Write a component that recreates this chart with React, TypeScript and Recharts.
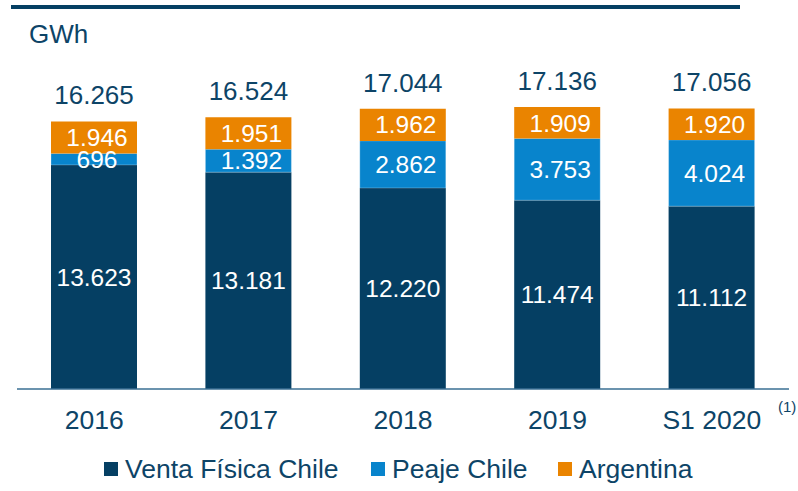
import React from "react"
import { BarChart, Bar, XAxis, YAxis, LabelList } from "recharts"

const years = ["2016", "2017", "2018", "2019", "S1 2020"]
const ventaFisica = [13623, 13181, 12220, 11474, 11112]
const peaje = [696, 1392, 2862, 3753, 4024]
const argentina = [1946, 1951, 1962, 1909, 1920]
const totals = [16265, 16524, 17044, 17136, 17056]

const series = [
  { key: "venta", name: "Venta Física Chile", color: "#053f63" },
  { key: "peaje", name: "Peaje Chile", color: "#0884cc" },
  { key: "argentina", name: "Argentina", color: "#ea8400" },
]
// legend item x positions
const legendLeft = [104, 371, 558]

const data = years.map((year, i) => ({
  year,
  venta: ventaFisica[i],
  peaje: peaje[i],
  argentina: argentina[i],
  total: totals[i],
}))

const textColor = "#0d4467"
const font = "'Liberation Sans', Arial, sans-serif"

const fmt = (v: any) => String(v).replace(/\B(?=(\d{3})+(?!\d))/g, ".")

function YearTick(props: any) {
  const { x, y, payload } = props
  return (
    <text x={x} y={y} dy={32} textAnchor="middle" fill={textColor} fontSize={26.5} fontFamily={font}>
      {payload.value}
    </text>
  )
}

export default function App() {
  return (
    <div style={{ position: "relative", width: 798, height: 491, fontFamily: font, background: "#fff" }}>
      <style>{`body{margin:0}`}</style>
      <div style={{ position: "absolute", left: 11, top: 5, width: 729, height: 4, background: "#053f63" }} />
      <div style={{ position: "absolute", left: 29, top: 19, fontSize: 26, color: textColor, lineHeight: "30px" }}>GWh</div>
      <BarChart
        width={798}
        height={491}
        data={data}
        margin={{ top: 60, right: 9, bottom: 72, left: 17 }}
        barSize={86}
      >
        <YAxis hide domain={[0, 20000]} />
        <XAxis
          dataKey="year"
          height={30}
          axisLine={{ stroke: "#3a6f93", strokeWidth: 1.5 }}
          tickLine={false}
          tick={<YearTick />}
          interval={0}
        />
        <Bar dataKey="venta" stackId="a" fill={series[0].color} isAnimationActive={false}>
          <LabelList dataKey="venta" position="center" fill="#fff" fontSize={24.5} fontFamily={font} formatter={fmt} />
        </Bar>
        <Bar dataKey="peaje" stackId="a" fill={series[1].color} stroke="#ffffff" strokeOpacity={0.25} isAnimationActive={false}>
          <LabelList dataKey="peaje" position="center" fill="#fff" fontSize={24.5} fontFamily={font} formatter={fmt} dx={3} />
        </Bar>
        <Bar dataKey="argentina" stackId="a" fill={series[2].color} isAnimationActive={false}>
          <LabelList dataKey="argentina" position="center" fill="#fff" fontSize={24.5} fontFamily={font} formatter={fmt} dx={3} />
          <LabelList dataKey="total" position="top" offset={17} fill={textColor} fontSize={26} fontFamily={font} formatter={fmt} />
        </Bar>
      </BarChart>
      <div style={{ position: "absolute", left: 778, top: 398, fontSize: 15, color: textColor }}>(1)</div>
      {series.map((s, i) => (
        <div
          key={s.key}
          style={{ position: "absolute", left: legendLeft[i], top: 454, display: "flex", alignItems: "center", fontSize: 26.5, color: textColor, lineHeight: "30px", whiteSpace: "nowrap" }}
        >
          <span style={{ display: "inline-block", width: 14, height: 14, background: s.color, marginRight: 7 }} />
          <span>{s.name}</span>
        </div>
      ))}
    </div>
  )
}
